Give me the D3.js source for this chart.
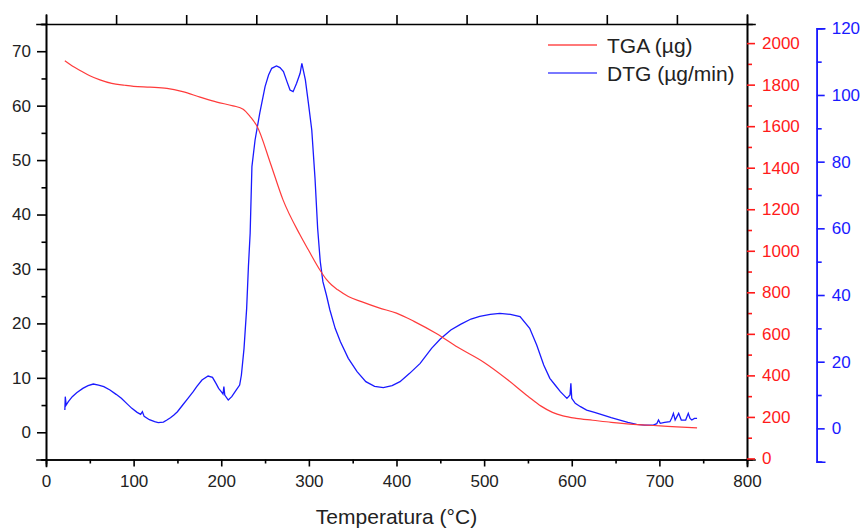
<!DOCTYPE html>
<html>
<head>
<meta charset="utf-8">
<script src="https://cdn.jsdelivr.net/npm/d3@7"></script>
<style>
  body { margin: 0; background: #fff; }
  svg { display: block; font-family: "Liberation Sans", Arial, sans-serif; }
</style>
</head>
<body>
<svg id="chart" width="864" height="528"></svg>
<script>
// TGA curve (temperature in °C, mass in µg)
var tgaTemp = [21.5, 30, 40, 50, 61.6, 75, 90, 100, 118.7, 138, 156, 175.8, 195, 213.5, 225, 233, 241, 256, 270.5, 290, 300, 313, 320, 326, 333, 345, 360, 380, 400, 420, 446, 470, 500, 525, 550, 565, 578, 590, 605, 624, 645, 663, 680, 701, 720, 743];
var tgaMass = [1915, 1890, 1866, 1843, 1823, 1806, 1797, 1792, 1788, 1782, 1766, 1740, 1716, 1698, 1682, 1646, 1598, 1423, 1245, 1076, 1000, 905, 862, 835, 812, 780, 755, 725, 700, 660, 600, 535, 462, 385, 300, 252, 222, 205, 193, 184, 174, 167, 162, 157, 152, 147];

// DTG curve (temperature in °C, rate in µg/min)
var dtgTemp = [21.5, 22, 23, 25.5, 30, 35, 42, 48, 54, 60, 66, 73, 80, 86, 92, 98, 104, 108, 110, 112, 118, 124, 128, 134, 138, 142, 146, 150, 156, 162, 168, 172, 178, 185, 190, 194, 197, 200, 202, 203, 204, 208, 212, 217, 221, 223, 226, 229, 231, 233, 235, 238.6, 244, 250, 254, 257.6, 263, 267, 271, 275, 278.5, 282, 286, 290, 292, 294, 296, 299.5, 303.3, 307, 310, 313, 316, 320, 324, 330, 336, 345, 355, 365, 375, 385, 395, 404, 415, 427, 440, 450, 462, 473, 485, 495, 507, 518, 530, 541, 552, 560, 568, 575, 581, 587, 594.5, 598, 599, 600, 604, 610, 617, 626, 636, 645, 655, 664, 674, 683, 693, 697, 699, 701, 706, 712, 714, 716, 718, 722, 725, 730, 733, 735, 737, 740, 743];
var dtgRate = [5.5, 9.5, 7, 8, 9.5, 10.7, 12, 12.8, 13.3, 13, 12.5, 11.5, 10.2, 9, 7.5, 6, 4.8, 4.2, 5, 3.6, 2.6, 2, 1.7, 1.9, 2.5, 3.2, 4, 5, 7, 9, 11, 12.5, 14.5, 15.7, 15.3, 13.5, 12, 11, 10.3, 12.5, 10, 8.5, 9.5, 11.5, 13, 16, 24, 36, 48.5, 58.6, 78.5, 86.5, 94.6, 102.5, 106, 108, 108.7, 108.2, 107, 104, 101.5, 101, 103.5, 106.5, 109.5, 107, 104.5, 97.5, 89.5, 75, 60, 50, 44, 40, 35.5, 30, 26, 21, 17, 14, 12.6, 12.2, 12.8, 14, 16.5, 19.5, 24, 26.8, 29.5, 31.2, 32.8, 33.6, 34.2, 34.5, 34.2, 33.5, 30, 25, 19, 15, 13, 11, 9, 10, 13.5, 9, 7.5, 6.5, 5.5, 4.8, 4, 3.2, 2.5, 1.8, 1.2, 1, 1, 1.4, 2.5, 1.5, 1.8, 2, 3, 4.5, 2.5, 4.5, 2.5, 2.5, 4.5, 3, 2.5, 3, 3];

var leftTicks = [0, 10, 20, 30, 40, 50, 60, 70];
var redTicks = [0, 200, 400, 600, 800, 1000, 1200, 1400, 1600, 1800, 2000];
var blueTicks = [0, 20, 40, 60, 80, 100, 120];
var xTicks = [0, 100, 200, 300, 400, 500, 600, 700, 800];

var svg = d3.select("#chart");
var plotL = 46, plotR = 747, plotT = 24, plotB = 459.5;
var red = "#ff1a1a", blue = "#1a1aff";

var x = d3.scaleLinear().domain([0, 800]).range([plotL, plotR]);
var yLeft = d3.scaleLinear().domain([-5, 75]).range([plotB, plotT]);
var yRed = d3.scaleLinear().domain([-5, 2092]).range([plotB, plotT]);
var yBlue = d3.scaleLinear().domain([-10, 120]).range([461.7, 28.3]);

function styleAxis(g, col, textCol) {
    g.select(".domain").attr("stroke", col).attr("stroke-width", 1.6);
    g.selectAll(".tick line").attr("stroke", col).attr("stroke-width", 1.6);
    g.selectAll(".tick text").attr("fill", textCol).style("font-size", "17px");
}

// bottom axis: minor ticks then major
svg.append("g").attr("transform", "translate(0," + plotB + ")")
    .call(d3.axisBottom(x).tickValues(d3.range(50, 800, 100)).tickSize(4).tickFormat(""))
    .call(function(g){ styleAxis(g, "#000", "#222"); });
svg.append("g").attr("transform", "translate(0," + plotB + ")")
    .call(d3.axisBottom(x).tickValues(xTicks).tickSize(7).tickPadding(8).tickFormat(d3.format("d")))
    .call(function(g){ styleAxis(g, "#000", "#222"); });

// top axis, ticks only
svg.append("g").attr("transform", "translate(0," + plotT + ")")
    .call(d3.axisTop(x).tickValues(d3.range(0, 801, 80)).tickSize(9).tickFormat(""))
    .call(function(g){ styleAxis(g, "#000", "#222"); });

// left axis
svg.append("g").attr("transform", "translate(" + plotL + ",0)")
    .call(d3.axisLeft(yLeft).tickValues(d3.range(-5, 76, 10)).tickSize(4.5).tickFormat(""))
    .call(function(g){ styleAxis(g, "#000", "#222"); });
svg.append("g").attr("transform", "translate(" + plotL + ",0)")
    .call(d3.axisLeft(yLeft).tickValues(leftTicks).tickSize(9).tickPadding(6).tickFormat(d3.format("d")))
    .call(function(g){ styleAxis(g, "#000", "#222"); });

// red right axis (black line, red ticks)
svg.append("g").attr("transform", "translate(" + plotR + ",0)")
    .call(d3.axisRight(yRed).tickValues(d3.range(100, 2092, 200)).tickSize(5).tickFormat(""))
    .call(function(g){ styleAxis(g, "#000", red); g.selectAll(".tick line").attr("stroke", red); });
svg.append("g").attr("transform", "translate(" + plotR + ",0)")
    .call(d3.axisRight(yRed).tickValues(redTicks).tickSize(8).tickPadding(7).tickFormat(d3.format("d")))
    .call(function(g){ styleAxis(g, "#000", red); g.selectAll(".tick line").attr("stroke", red); });

// blue offset axis
svg.append("g").attr("transform", "translate(816.7,0)")
    .call(d3.axisRight(yBlue).tickValues(d3.range(-10, 120, 20)).tickSize(5).tickFormat(""))
    .call(function(g){ styleAxis(g, blue, blue); });
svg.append("g").attr("transform", "translate(816.7,0)")
    .call(d3.axisRight(yBlue).tickValues(blueTicks).tickSize(8).tickPadding(7).tickFormat(d3.format("d")))
    .call(function(g){ styleAxis(g, blue, blue); });

svg.selectAll(".domain").attr("stroke-linecap", "square");

// curves
var tga = tgaTemp.map(function(t, i){ return [t, tgaMass[i]]; });
var dtg = dtgTemp.map(function(t, i){ return [t, dtgRate[i]]; });

svg.append("path")
    .datum(dtg)
    .attr("fill", "none")
    .attr("stroke", blue)
    .attr("stroke-width", 1.3)
    .attr("d", d3.line().x(function(d){ return x(d[0]); }).y(function(d){ return yBlue(d[1]); }));

svg.append("path")
    .datum(tga)
    .attr("fill", "none")
    .attr("stroke", "#ff3b3b")
    .attr("stroke-width", 1.2)
    .attr("d", d3.line().curve(d3.curveMonotoneX).x(function(d){ return x(d[0]); }).y(function(d){ return yRed(d[1]); }));

// axis title
svg.append("text")
    .attr("x", (plotL + plotR) / 2)
    .attr("y", 524)
    .attr("text-anchor", "middle")
    .attr("fill", "#222")
    .style("font-size", "21px")
    .text("Temperatura (°C)");

// legend
var legend = [{name: "TGA (µg)", color: "#ff4d4d"}, {name: "DTG (µg/min)", color: "#4d4dff"}];
var lg = svg.append("g").attr("transform", "translate(548,45)");
lg.selectAll("line").data(legend).enter().append("line")
    .attr("x1", 0).attr("x2", 49)
    .attr("y1", function(d, i){ return i * 28; })
    .attr("y2", function(d, i){ return i * 28; })
    .attr("stroke", function(d){ return d.color; })
    .attr("stroke-width", 1.3);
lg.selectAll("text").data(legend).enter().append("text")
    .attr("x", 59)
    .attr("y", function(d, i){ return i * 28 + 8; })
    .attr("fill", "#222")
    .style("font-size", "21px")
    .text(function(d){ return d.name; });
</script>
</body>
</html>
